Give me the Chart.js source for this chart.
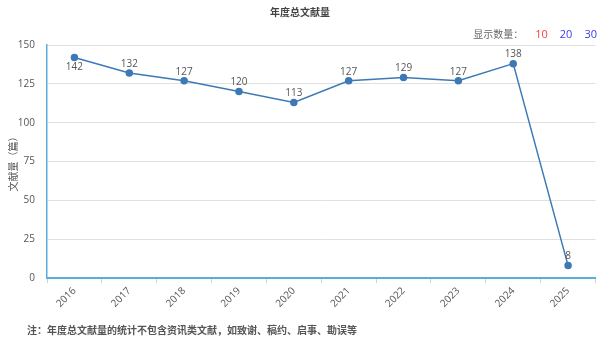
<!DOCTYPE html>
<html>
<head>
<meta charset="utf-8">
<script src="https://cdn.jsdelivr.net/npm/chart.js@4/dist/chart.umd.min.js"></script>
<style>
  html, body { margin: 0; padding: 0; background: #fff; }
  #wrap { position: relative; width: 600px; height: 349px; overflow: hidden;
          font-family: "Open Sans", "Noto Sans CJK SC", sans-serif; }
  #c { position: absolute; left: 0; top: 0; }
  #title { position: absolute; top: 4px; left: 0; width: 600px; text-align: center;
           font-size: 10px; font-weight: bold; color: #444; }
  #count { position: absolute; top: 26px; right: 3px; font-size: 11px; color: #666; }
  #count span { margin-left: 12px; }
  #count .lead { margin-left: 0; color: #666; font-size: 10px; }
  #note { position: absolute; left: 27px; top: 322px; font-size: 10px; font-weight: bold; color: #555; }
</style>
</head>
<body>
<div id="wrap">
  <canvas id="c" width="600" height="349"></canvas>
  <div id="title">年度总文献量</div>
  <div id="count"><span class="lead">显示数量：</span><span style="color:#ff3b3b">10</span><span style="color:#3b3bee">20</span><span style="color:#3b3bee">30</span></div>
  <div id="note">注：年度总文献量的统计不包含资讯类文献，如致谢、稿约、启事、勘误等</div>
</div>
<script>
// yearly document counts
const years = ['2016', '2017', '2018', '2019', '2020', '2021', '2022', '2023', '2024', '2025'];
const counts = [142, 132, 127, 120, 113, 127, 129, 127, 138, 8];
const yTicks = [0, 25, 50, 75, 100, 125, 150];

// draws each point's value next to it (first one below, rest above)
const valueLabels = {
  id: 'valueLabels',
  afterDatasetsDraw(chart) {
    const ctx = chart.ctx;
    const meta = chart.getDatasetMeta(0);
    ctx.save();
    ctx.font = '10px "Open Sans", sans-serif';
    ctx.fillStyle = '#555';
    ctx.textAlign = 'center';
    meta.data.forEach((pt, i) => {
      const v = chart.data.datasets[0].data[i];
      if (i === 0) {
        ctx.textBaseline = 'top';
        ctx.fillText(String(v), pt.x, pt.y + 5);
      } else {
        ctx.textBaseline = 'bottom';
        ctx.fillText(String(v), pt.x, pt.y - 4);
      }
    });
    ctx.restore();
  }
};

new Chart(document.getElementById('c'), {
  type: 'line',
  data: {
    labels: years,
    datasets: [{
      data: counts,
      borderColor: '#3d7ab5',
      backgroundColor: '#3d7ab5',
      borderWidth: 1.5,
      pointRadius: 3,
      pointHoverRadius: 3,
      tension: 0,
      fill: false
    }]
  },
  options: {
    responsive: false,
    animation: false,
    layout: { padding: { top: 45, right: 3, left: 0, bottom: 0 } },
    plugins: { legend: { display: false }, tooltip: { enabled: false } },
    scales: {
      x: {
        offset: true,
        grid: { offset: true, drawOnChartArea: false, drawTicks: true, tickLength: 5, color: '#d0d0d0' },
        border: { color: '#5aaedc', width: 2 },
        ticks: {
          maxRotation: 45, minRotation: 45, padding: 2,
          font: { size: 10, family: '"Open Sans", sans-serif' }, color: '#555'
        },
        afterFit(scale) { scale.height = 71; }
      },
      y: {
        min: 0, max: 150,
        afterBuildTicks(scale) { scale.ticks = yTicks.map(v => ({ value: v })); },
        grid: { color: '#e0e0e0', drawTicks: false, lineWidth: 1 },
        border: { color: '#5aaedc', width: 1.5 },
        ticks: {
          padding: 12,
          font: { size: 10, family: '"Open Sans", sans-serif' }, color: '#555'
        },
        title: {
          display: true, text: '文献量（篇）', color: '#555',
          font: { size: 10, family: '"Noto Sans CJK SC", sans-serif' }, padding: { top: 7, bottom: 0 }
        },
        afterFit(scale) { scale.width = 47; }
      }
    }
  },
  plugins: [valueLabels]
});
</script>
</body>
</html>
